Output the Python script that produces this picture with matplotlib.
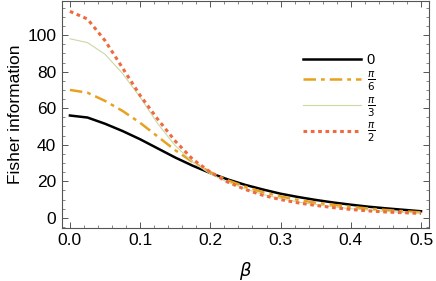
import matplotlib.pyplot as plt
from matplotlib.ticker import MultipleLocator

plt.rcParams['font.family'] = ['Liberation Sans', 'DejaVu Sans']
plt.rcParams['mathtext.fontset'] = 'dejavusans'

beta = [0.0, 0.025, 0.05, 0.075, 0.1, 0.125, 0.15, 0.175, 0.2, 0.225, 0.25,
        0.275, 0.3, 0.325, 0.35, 0.375, 0.4, 0.425, 0.45, 0.475, 0.5]

# Fisher information for each angle
fi_0 = [56, 54.9, 51.5, 47.5, 43, 38, 33, 28.5, 24.5, 21, 18,
        15.5, 13.2, 11.4, 9.8, 8.4, 7.2, 6.1, 5.2, 4.4, 3.6]
fi_pi6 = [70, 68.5, 64, 58.5, 52, 44.5, 37, 30.5, 25, 20.5, 17,
          14, 11.7, 9.8, 8.3, 7.1, 6, 5.1, 4.3, 3.6, 3]
fi_pi3 = [98, 95.9, 89.5, 79, 66, 51.5, 39.5, 30.5, 24, 19.5, 15.8,
          12.8, 10.5, 8.7, 7.2, 6, 5, 4.2, 3.5, 3, 2.6]
fi_pi2 = [113, 108.8, 97, 82, 67, 54, 42, 32, 25, 19.5, 15.5,
          12.3, 10, 8.2, 6.8, 5.6, 4.6, 3.8, 3.2, 2.8, 2.4]

labels = ['0', r'$\frac{\pi}{6}$', r'$\frac{\pi}{3}$', r'$\frac{\pi}{2}$']

fig = plt.figure(figsize=(4.36, 2.81), dpi=100)
ax = fig.add_axes([0.142, 0.189, 0.842, 0.807])

ax.plot(beta, fi_0, color='black', lw=1.8, label=labels[0])
ax.plot(beta, fi_pi6, color='#E8A11E', lw=1.8, dashes=(5, 2, 1.5, 2), label=labels[1])
ax.plot(beta, fi_pi3, color='#C9D9A3', lw=0.8, label=labels[2])
ax.plot(beta, fi_pi2, color='#EF6A3E', lw=2.2, linestyle=(0, (1.2, 1.2)), label=labels[3])

ax.set_xlim(-0.0114, 0.5114)
ax.set_ylim(-5.5, 118.6)
ax.xaxis.set_major_locator(MultipleLocator(0.1))
ax.xaxis.set_minor_locator(MultipleLocator(0.02))
ax.yaxis.set_major_locator(MultipleLocator(20))
ax.yaxis.set_minor_locator(MultipleLocator(5))
ax.tick_params(which='both', direction='in', top=True, right=True,
               labeltop=False, labelright=False, color='#555555', labelsize=12.5)
ax.tick_params(which='major', length=4, width=0.7, pad=4)
ax.tick_params(which='minor', length=2, width=0.5)
for s in ax.spines.values():
    s.set_color('#555555')
    s.set_linewidth(0.8)

ax.set_xlabel(r'$\beta$', fontsize=13, labelpad=8)
ax.set_ylabel('Fisher information', fontsize=12.5, labelpad=3)

leg = ax.legend(loc='upper left', bbox_to_anchor=(0.62, 0.83), frameon=False,
                handlelength=4.0, labelspacing=0.18, fontsize=10.5, handletextpad=0.4)

fig.savefig('out.png', dpi=100)
